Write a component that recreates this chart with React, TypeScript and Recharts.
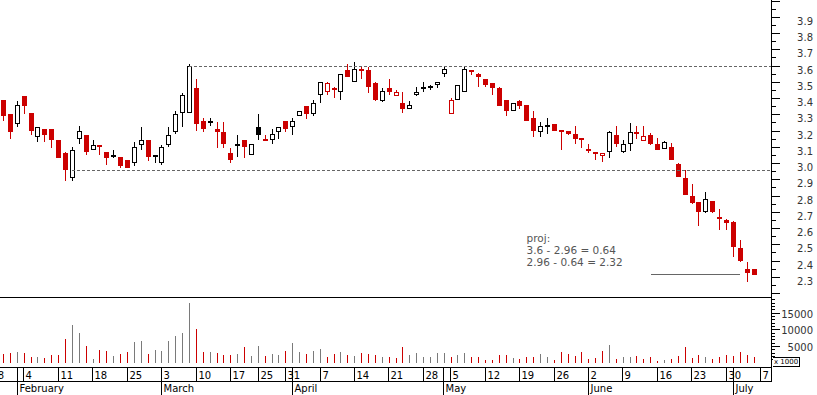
import React from 'react';
import { Bar, ComposedChart, ReferenceDot, ReferenceLine, XAxis, YAxis } from 'recharts';

const RED = '#cc0000';
const BLACK = '#000000';
const VOL_GREY = '#7a7a7a';
const LINE_GREY = '#666666';
const FONT = 'DejaVu Sans';

// layout (svg is shifted left so the first slots sit off-page)
const SHIFT = 24;
const W = 817 + SHIFT;
const AXIS_W = 46;
const PLOT_LEFT = 3.23;
const PLOT_RIGHT = W - AXIS_W;

// one slot per trading day: slot 0 = Jan 28, slot 112 = Jul 7
const FIRST_SLOT = -1;
const LAST_SLOT = 113;
const FIRST_BAR = 2; // Jan 30
const PREV_CLOSE = 3.45;

const opens = [
  3.39, 3.30, 3.24, 3.41, 3.31, 3.16, 3.21, 3.21, 3.14, 3.06,
  2.91, 3.15, 3.17, 3.08, 3.11, 3.07, 3.045, 3.04, 3.02, 3.00,
  3.11, 3.14, 3.04, 3.00, 3.11, 3.19, 3.31, 3.31, 3.46, 3.26,
  3.25, 3.21, 3.19, 3.06, 3.11, 3.14, 3.05, 3.22, 3.15, 3.14,
  3.19, 3.26, 3.22, 3.29, 3.35, 3.30, 3.42, 3.44, 3.46, 3.44,
  3.57, 3.50, 3.58, 3.57, 3.49, 3.38, 3.46, 3.41, 3.37, 3.33,
  3.42, 3.46, 3.465, 3.48, 3.55, 3.30, 3.39, 3.44, 3.575, 3.55,
  3.52, 3.49, 3.46, 3.39, 3.32, 3.38, 3.36, 3.28, 3.19, 3.225,
  3.24, 3.20, 3.20, 3.18, 3.15, 3.085, 3.055, 3.045, 3.065, 3.17,
  3.07, 3.12, 3.19, 3.135, 3.17, 3.12, 3.085, 3.10, 2.995, 2.905,
  2.795, 2.76, 2.70, 2.765, 2.665, 2.65, 2.635, 2.48, 2.35, 2.345,
];
const highs = [
  3.39, 3.30, 3.38, 3.41, 3.31, 3.22, 3.21, 3.21, 3.14, 3.07,
  3.10, 3.23, 3.17, 3.14, 3.11, 3.07, 3.08, 3.04, 3.02, 3.13,
  3.22, 3.14, 3.05, 3.11, 3.22, 3.32, 3.43, 3.61, 3.52, 3.28,
  3.28, 3.25, 3.25, 3.09, 3.17, 3.14, 3.12, 3.30, 3.17, 3.21,
  3.22, 3.26, 3.28, 3.32, 3.35, 3.39, 3.50, 3.50, 3.47, 3.55,
  3.61, 3.62, 3.60, 3.59, 3.50, 3.46, 3.52, 3.45, 3.44, 3.38,
  3.47, 3.50, 3.48, 3.50, 3.59, 3.40, 3.48, 3.60, 3.575, 3.555,
  3.52, 3.49, 3.47, 3.39, 3.37, 3.385, 3.36, 3.32, 3.25, 3.28,
  3.24, 3.205, 3.20, 3.23, 3.15, 3.12, 3.065, 3.06, 3.195, 3.23,
  3.14, 3.245, 3.225, 3.225, 3.185, 3.155, 3.135, 3.125, 3.00, 2.955,
  2.87, 2.76, 2.82, 2.765, 2.715, 2.655, 2.645, 2.525, 2.39, 2.345,
];
const lows = [
  3.26, 3.15, 3.22, 3.30, 3.17, 3.13, 3.13, 3.09, 3.03, 2.89,
  2.89, 3.12, 3.05, 3.08, 3.05, 2.99, 3.03, 2.97, 2.97, 2.98,
  3.08, 3.01, 3.00, 2.99, 3.10, 3.18, 3.22, 3.31, 3.20, 3.19,
  3.23, 3.09, 3.09, 3.00, 3.04, 3.03, 3.05, 3.14, 3.135, 3.12,
  3.15, 3.19, 3.17, 3.29, 3.27, 3.29, 3.37, 3.42, 3.40, 3.39,
  3.53, 3.50, 3.52, 3.43, 3.38, 3.375, 3.42, 3.41, 3.31, 3.33,
  3.41, 3.44, 3.45, 3.46, 3.53, 3.30, 3.39, 3.44, 3.54, 3.47,
  3.47, 3.42, 3.35, 3.29, 3.32, 3.33, 3.26, 3.16, 3.16, 3.18,
  3.20, 3.08, 3.17, 3.12, 3.09, 3.06, 3.02, 3.005, 3.03, 3.10,
  3.06, 3.075, 3.15, 3.135, 3.11, 3.08, 3.085, 3.02, 2.915, 2.805,
  2.745, 2.61, 2.695, 2.69, 2.59, 2.59, 2.42, 2.39, 2.27, 2.31,
];
const closes = [
  3.29, 3.19, 3.36, 3.35, 3.20, 3.22, 3.17, 3.14, 3.03, 2.96,
  3.08, 3.20, 3.07, 3.11, 3.10, 3.03, 3.05, 2.98, 2.97, 3.10,
  3.14, 3.04, 3.05, 3.10, 3.17, 3.30, 3.42, 3.60, 3.24, 3.21,
  3.26, 3.19, 3.12, 3.02, 3.12, 3.10, 3.12, 3.17, 3.14, 3.18,
  3.22, 3.21, 3.26, 3.32, 3.30, 3.37, 3.50, 3.49, 3.45, 3.55,
  3.53, 3.58, 3.57, 3.47, 3.39, 3.445, 3.44, 3.435, 3.33, 3.36,
  3.44, 3.465, 3.47, 3.50, 3.58, 3.39, 3.48, 3.58, 3.565, 3.53,
  3.48, 3.46, 3.35, 3.32, 3.37, 3.35, 3.26, 3.20, 3.23, 3.23,
  3.20, 3.195, 3.18, 3.15, 3.145, 3.08, 3.065, 3.06, 3.19, 3.12,
  3.12, 3.19, 3.185, 3.165, 3.12, 3.08, 3.13, 3.02, 2.915, 2.805,
  2.755, 2.70, 2.78, 2.70, 2.66, 2.63, 2.485, 2.395, 2.325, 2.31,
];
const volumes = [
  2600, 2900, 3200, 2900, 1800, 1700, 1400, 2300, 2300, 7200,
  11300, 8900, 5000, 1100, 3800, 3500, 2000, 2600, 3200, 6200,
  6500, 2600, 3800, 3500, 6500, 8000, 8900, 17900, 10200, 3200,
  3200, 2900, 2300, 2300, 2600, 4700, 2000, 5000, 2000, 2600,
  2300, 3500, 5900, 3200, 2600, 3500, 4100, 1700, 2600, 3200,
  2300, 2000, 2900, 2600, 2300, 1700, 1700, 1400, 4700, 2300,
  2900, 1700, 1700, 2900, 2900, 1700, 2300, 2900, 1700, 1700,
  800, 800, 2300, 2300, 1400, 1100, 1700, 1700, 2600, 1700,
  800, 3200, 2600, 2000, 3200, 1100, 1400, 3500, 5300, 1100,
  1700, 1700, 2000, 1100, 1700, 500, 800, 1100, 2000, 4700,
  1400, 2300, 1700, 1100, 1700, 2300, 2000, 3200, 2300, 1700,
];

const weekSlots = [0, 5, 10, 15, 20, 25, 30, 35, 39, 43, 48, 53, 58, 63, 67, 72, 77, 82, 87, 92, 97, 102, 107, 112];
const weekLabels = ['28', '4', '11', '18', '25', '3', '10', '17', '25', '31', '7', '14', '21', '28', '5', '12', '19', '26', '2', '9', '16', '23', '30', '7'];
const monthSlots = [4, 25, 44, 66, 87, 108];
const monthLabels = ['February', 'March', 'April', 'May', 'June', 'July'];

const priceTicks = [
  2.2, 2.25, 2.3, 2.35, 2.4, 2.45, 2.5, 2.55, 2.6, 2.65, 2.7, 2.75, 2.8, 2.85, 2.9, 2.95,
  3.0, 3.05, 3.1, 3.15, 3.2, 3.25, 3.3, 3.35, 3.4, 3.45, 3.5, 3.55, 3.6, 3.65, 3.7, 3.75,
  3.8, 3.85, 3.9, 3.95, 4.0,
];
const priceLabels = ['2.3', '2.4', '2.5', '2.6', '2.7', '2.8', '2.9', '3.0', '3.1', '3.2', '3.3', '3.4', '3.5', '3.6', '3.7', '3.8', '3.9'];
const PRICE_DOMAIN = [2.1754, 4.0031];

const volTicks = [
  1000, 2000, 3000, 4000, 5000, 6000, 7000, 8000, 9000, 10000,
  11000, 12000, 13000, 14000, 15000, 16000, 17000, 18000, 19000,
];
const volLabels = ['5000', '10000', '15000'];
const VOL_DOMAIN = [-1287, 19670];

// projection drawn on the chart
const resistance = 3.6;
const support = 2.96;
const target = 2.32;
const annotLines = ['proj:', '3.6 - 2.96 = 0.64', '2.96 - 0.64 = 2.32'];

type Row = { s: number; o?: number; h?: number; l?: number; c?: number; v?: number; down?: boolean };

const rows: Row[] = [];
for (let s = FIRST_SLOT; s <= LAST_SLOT; s++) {
  const k = s - FIRST_BAR;
  if (k >= 0 && k < closes.length) {
    const pc = k === 0 ? PREV_CLOSE : closes[k - 1];
    rows.push({ s, o: opens[k], h: highs[k], l: lows[k], c: closes[k], v: volumes[k], down: closes[k] < pc });
  } else {
    rows.push({ s });
  }
}

const candleRange = (d: Row) => (d.h == null ? null : [d.l, d.h]);

function Candle(props: any) {
  const { x, y, width, height, payload } = props;
  if (!payload || payload.h == null) return <g />;
  const { o, h, l, c, down } = payload;
  const k = h > l ? height / (h - l) : 0;
  const py = (v: number) => Math.round(y + (h - v) * k);
  const col = down ? RED : BLACK;
  const cx = Math.floor(x + width / 2);
  const top = py(Math.max(o, c));
  const bot = py(Math.min(o, c));
  const yH = py(h);
  const yL = py(l);
  const bodyH = bot - top;
  let body;
  if (bodyH < 3) {
    body = <rect x={cx - 2} y={Math.round((top + bot) / 2 - 1)} width={5} height={2} fill={col} />;
  } else if (c > o) {
    body = <rect x={cx - 1.5} y={top + 0.5} width={4} height={bodyH - 1} fill="#fff" stroke={col} />;
  } else {
    body = <rect x={cx - 2} y={top} width={5} height={bodyH} fill={col} />;
  }
  return (
    <g>
      <rect x={cx} y={yH} width={1} height={Math.max(1, yL - yH)} fill={col} />
      {body}
    </g>
  );
}

function VolLine(props: any) {
  const { x, y, width, height, payload } = props;
  if (!payload || payload.v == null) return <g />;
  const cx = Math.floor(x + width / 2);
  const t = Math.round(y);
  const b = Math.round(y + height);
  return <rect x={cx} y={t} width={1} height={Math.max(1, b - t)} fill={payload.down ? RED : VOL_GREY} />;
}

function PriceTick(props: any) {
  const { x, y, payload } = props;
  const v = payload.value as number;
  const major = Math.round(v * 100) % 10 === 0;
  const yy = Math.round(y) + 0.5;
  const lbl = v.toFixed(1);
  return (
    <g>
      <line x1={x} x2={x + (major ? 9 : 5)} y1={yy} y2={yy} stroke="#000" />
      {major && priceLabels.includes(lbl) && (
        <text x={x + 42} y={yy + 7} textAnchor="end" fontFamily={FONT} fontSize={10} fill="#333">
          {lbl}
        </text>
      )}
    </g>
  );
}

function VolTick(props: any) {
  const { x, y, payload } = props;
  const v = payload.value as number;
  const major = v % 5000 === 0;
  const yy = Math.round(y) + 0.5;
  return (
    <g>
      <line x1={x} x2={x + (major ? 9 : 4)} y1={yy} y2={yy} stroke="#000" />
      {volLabels.includes(String(v)) && (
        <text x={x + 42} y={yy + 4} textAnchor="end" fontFamily={FONT} fontSize={10} fill="#333">
          {v}
        </text>
      )}
    </g>
  );
}

function DateTick(props: any) {
  const { x, y, payload, index } = props;
  const s = payload.value as number;
  const lx = Math.floor(x) + 0.5;
  const yy = Math.round(y);
  const w = weekSlots.indexOf(s);
  const m = monthSlots.indexOf(s);
  return (
    <g>
      {index === 0 && <line x1={0} x2={PLOT_RIGHT + 1} y1={yy + 14.5} y2={yy + 14.5} stroke="#000" />}
      {index === 0 && <line x1={PLOT_RIGHT + 0.5} x2={PLOT_RIGHT + 0.5} y1={yy} y2={yy + 15} stroke="#000" />}
      {w >= 0 && <line x1={lx} x2={lx} y1={yy} y2={yy + 15} stroke="#000" />}
      {w >= 0 && (
        <text x={lx + 2} y={yy + 12} fontFamily={FONT} fontSize={10} fill="#000">
          {weekLabels[w]}
        </text>
      )}
      {m >= 0 && <line x1={lx} x2={lx} y1={yy} y2={yy + 30} stroke="#000" />}
      {m >= 0 && (
        <text x={lx + 2} y={yy + 25} fontFamily={FONT} fontSize={10} fill="#000">
          {monthLabels[m]}
        </text>
      )}
    </g>
  );
}

function Annotation(props: any) {
  const vb = props.viewBox || { x: 0, y: 0 };
  return (
    <text fontFamily={FONT} fontSize={10.5} fill="#555">
      {annotLines.map((t, i) => (
        <tspan key={t} x={vb.x} y={vb.y + 4 + i * 12}>
          {t}
        </tspan>
      ))}
    </text>
  );
}

const toAxis = (p: any, dashed: boolean) => {
  const yy = Math.round(p.y1) + 0.5;
  return (
    <line
      x1={p.x1}
      y1={yy}
      x2={dashed ? PLOT_RIGHT : p.x2}
      y2={yy}
      stroke={LINE_GREY}
      strokeDasharray={dashed ? '3 2' : undefined}
    />
  );
};

export default function App() {
  return (
    <div
      style={{
        position: 'absolute',
        left: -SHIFT,
        top: 0,
        width: W,
        height: 395,
        background: '#fff',
        shapeRendering: 'crispEdges',
      }}
    >
      <div style={{ position: 'absolute', left: 0, top: 0 }}>
        <ComposedChart width={W} height={298} data={rows} margin={{ top: 0, right: 0, bottom: 0, left: PLOT_LEFT }}>
          <XAxis dataKey="s" height={1} tick={false} tickLine={false} axisLine={{ stroke: '#000' }} />
          <YAxis
            orientation="right"
            width={AXIS_W}
            domain={PRICE_DOMAIN}
            allowDataOverflow
            ticks={priceTicks}
            interval={0}
            tickSize={0}
            tickMargin={0}
            tickLine={false}
            axisLine={{ stroke: '#000' }}
            tick={(p: any) => <PriceTick {...p} />}
          />
          <ReferenceLine segment={[{ x: 29, y: resistance }, { x: 113, y: resistance }]} shape={(p: any) => toAxis(p, true)} />
          <ReferenceLine segment={[{ x: 12, y: support }, { x: 113, y: support }]} shape={(p: any) => toAxis(p, true)} />
          <ReferenceLine segment={[{ x: 96, y: target }, { x: 109, y: target }]} shape={(p: any) => toAxis(p, false)} />
          <ReferenceDot x={78} y={2.54} r={0} fill="none" stroke="none" label={<Annotation />} />
          <Bar dataKey={candleRange} shape={(p: any) => <Candle {...p} />} isAnimationActive={false} />
        </ComposedChart>
      </div>
      <div style={{ position: 'absolute', left: 0, top: 297 }}>
        <ComposedChart width={W} height={98} data={rows} margin={{ top: 0, right: 0, bottom: 0, left: PLOT_LEFT }}>
          <XAxis
            dataKey="s"
            height={28}
            interval={0}
            tickSize={0}
            tickMargin={0}
            tickLine={false}
            axisLine={{ stroke: '#000' }}
            tick={(p: any) => <DateTick {...p} />}
          />
          <YAxis
            orientation="right"
            width={AXIS_W}
            domain={VOL_DOMAIN}
            allowDataOverflow
            ticks={volTicks}
            interval={0}
            tickSize={0}
            tickMargin={0}
            tickLine={false}
            axisLine={{ stroke: '#000' }}
            tick={(p: any) => <VolTick {...p} />}
          />
          <Bar dataKey="v" shape={(p: any) => <VolLine {...p} />} isAnimationActive={false} />
        </ComposedChart>
      </div>
      <div
        style={{
          position: 'absolute',
          left: 773 + SHIFT,
          top: 357,
          width: 27,
          height: 10,
          boxSizing: 'border-box',
          borderTop: '1px solid #000',
          borderRight: '1px solid #000',
          borderBottom: '1px solid #000',
          fontFamily: FONT,
          fontSize: 7,
          lineHeight: '8px',
          paddingLeft: 1,
          whiteSpace: 'nowrap',
          overflow: 'hidden',
          background: '#fff',
        }}
      >
        x 1000
      </div>
    </div>
  );
}
